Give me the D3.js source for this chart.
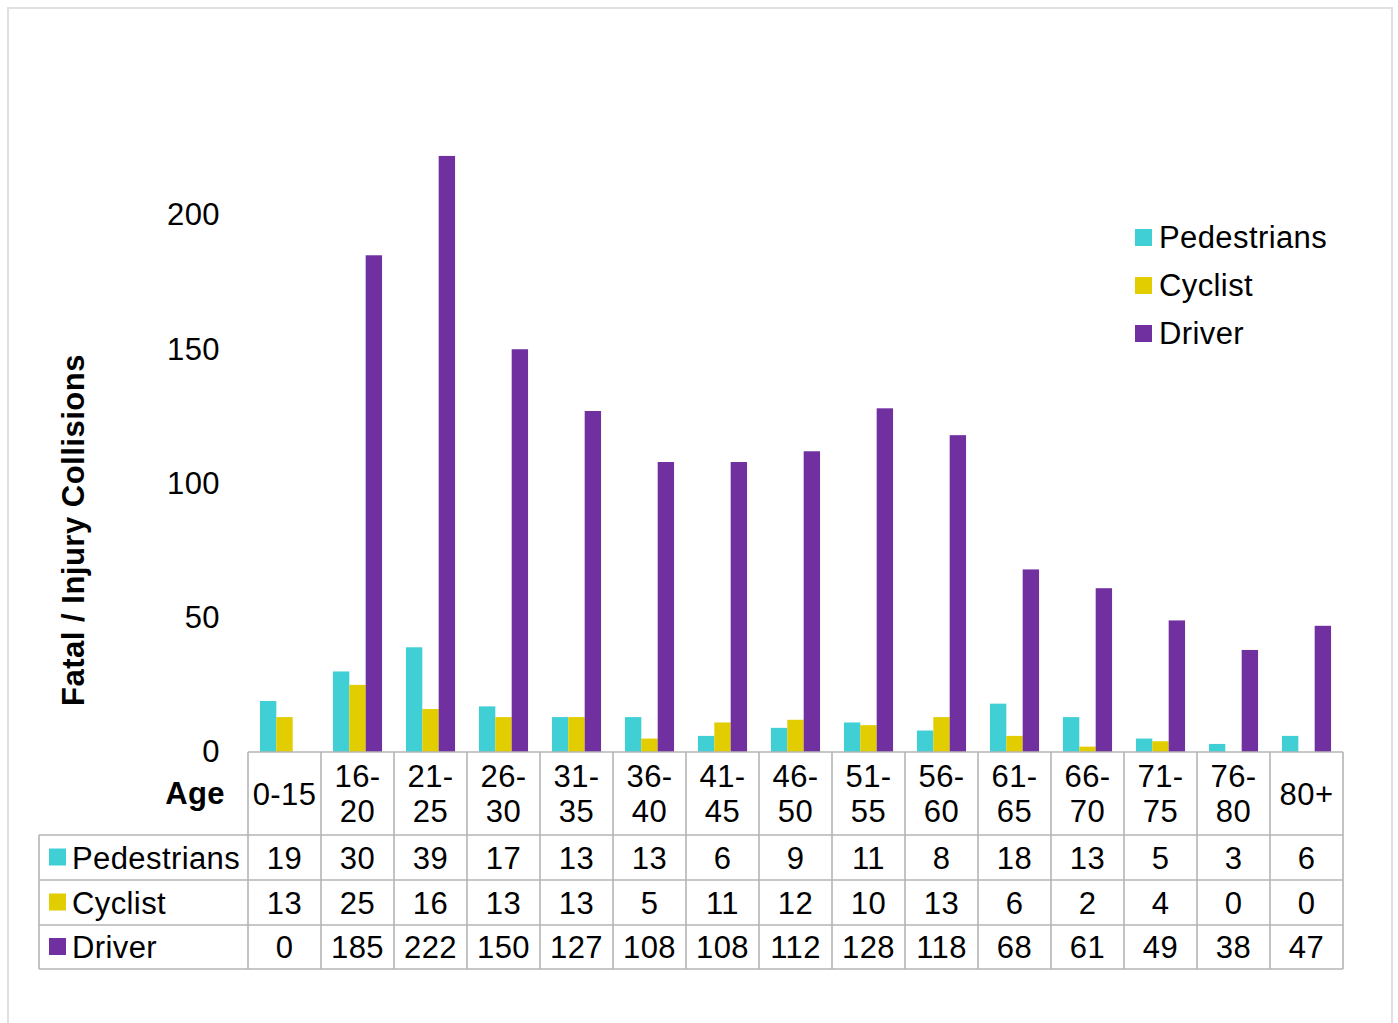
<!DOCTYPE html>
<html lang="en">
<head>
    <meta charset="UTF-8">
    <title>Fatal / Injury Collisions by Age</title>
    <script src="https://d3js.org/d3.v7.min.js"></script>
    <style>
        body { margin: 0; background: #fff; }
        svg text { font-family: "Liberation Sans", Arial, sans-serif; fill: #000; letter-spacing: 0.4px; }
    </style>
</head>
<body>
    <svg id="chart" width="1398" height="1023"></svg>
    <script>
        // Chart data
        const ageGroups = ["0-15", "16-20", "21-25", "26-30", "31-35", "36-40", "41-45", "46-50",
                           "51-55", "56-60", "61-65", "66-70", "71-75", "76-80", "80+"];
        const seriesNames = ["Pedestrians", "Cyclist", "Driver"];
        const pedestrians = [19, 30, 39, 17, 13, 13, 6, 9, 11, 8, 18, 13, 5, 3, 6];
        const cyclist = [13, 25, 16, 13, 13, 5, 11, 12, 10, 13, 6, 2, 4, 0, 0];
        const driver = [0, 185, 222, 150, 127, 108, 108, 112, 128, 118, 68, 61, 49, 38, 47];
        const yTicks = [0, 50, 100, 150, 200];

        const colors = { Pedestrians: "#41cfd6", Cyclist: "#e2cd00", Driver: "#7030a0" };
        const values = { Pedestrians: pedestrians, Cyclist: cyclist, Driver: driver };
        const fs = 31;

        const svg = d3.select("#chart");

        // outer frame
        svg.append("rect")
            .attr("x", 8).attr("y", 8).attr("width", 1384).attr("height", 1030)
            .attr("fill", "none").attr("stroke", "#e0e0e0").attr("stroke-width", 2);

        const plotLeft = 248, plotRight = 1343, baseY = 752;

        const x0 = d3.scaleBand().domain(ageGroups).range([plotLeft, plotRight]).padding(0);
        const x1 = d3.scaleBand().domain(seriesNames).range([0, x0.bandwidth()])
            .paddingInner(0).paddingOuter(0.73);
        const y = d3.scaleLinear().domain([0, 200]).range([baseY, 215]);

        // bars
        const groups = svg.append("g").selectAll("g").data(ageGroups).join("g")
            .attr("transform", d => `translate(${x0(d)},0)`);
        groups.selectAll("rect")
            .data((d, i) => seriesNames.map(s => ({ s, v: values[s][i] })))
            .join("rect")
            .attr("x", d => x1(d.s))
            .attr("width", x1.bandwidth())
            .attr("y", d => y(d.v))
            .attr("height", d => baseY - y(d.v))
            .attr("fill", d => colors[d.s]);

        // y axis (labels only)
        const yAxis = svg.append("g")
            .attr("transform", `translate(230,0)`)
            .call(d3.axisLeft(y).tickValues(yTicks).tickSize(0).tickPadding(10));
        yAxis.select(".domain").remove();
        yAxis.selectAll("text").attr("font-size", fs).attr("font-family", "Liberation Sans, Arial, sans-serif")
            .attr("fill", "#000");

        // y axis title
        svg.append("text")
            .attr("transform", "translate(84,530) rotate(-90)")
            .attr("text-anchor", "middle")
            .attr("font-size", 31).attr("font-weight", "bold")
            .style("letter-spacing", "0.5px")
            .text("Fatal / Injury Collisions");

        // data table
        const rowTops = [835, 880, 925, 969];
        const tableLeft = 39;
        const gridColor = "#b4b4b4";
        const table = svg.append("g");

        // horizontal lines
        table.append("line").attr("x1", plotLeft).attr("x2", plotRight)
            .attr("y1", baseY).attr("y2", baseY);
        rowTops.forEach(ry => table.append("line")
            .attr("x1", tableLeft).attr("x2", plotRight).attr("y1", ry).attr("y2", ry));
        // vertical lines
        table.append("line").attr("x1", tableLeft).attr("x2", tableLeft)
            .attr("y1", rowTops[0]).attr("y2", rowTops[3]);
        ageGroups.forEach(a => table.append("line")
            .attr("x1", x0(a)).attr("x2", x0(a)).attr("y1", baseY).attr("y2", rowTops[3]));
        table.append("line").attr("x1", plotRight).attr("x2", plotRight)
            .attr("y1", baseY).attr("y2", rowTops[3]);
        table.selectAll("line").attr("stroke", gridColor).attr("stroke-width", 1.6);

        // header: Age + category labels
        svg.append("text").attr("x", 225).attr("y", 804).attr("text-anchor", "end")
            .attr("font-size", fs).attr("font-weight", "bold").text("Age");
        ageGroups.forEach(a => {
            const cx = x0(a) + x0.bandwidth() / 2;
            const parts = a.includes("-") && a !== "0-15" ? [a.split("-")[0] + "-", a.split("-")[1]] : [a];
            const t = svg.append("text").attr("text-anchor", "middle").attr("font-size", fs);
            if (parts.length === 1) {
                t.attr("x", cx).attr("y", 805).text(parts[0]);
            } else {
                t.append("tspan").attr("x", cx).attr("y", 787).text(parts[0]);
                t.append("tspan").attr("x", cx).attr("y", 822).text(parts[1]);
            }
        });

        // rows
        seriesNames.forEach((s, r) => {
            const midY = (rowTops[r] + rowTops[r + 1]) / 2;
            svg.append("rect").attr("x", 49).attr("y", midY - 9).attr("width", 17).attr("height", 17)
                .attr("fill", colors[s]);
            svg.append("text").attr("x", 72).attr("y", midY + 11).attr("font-size", fs).text(s);
            values[s].forEach((v, i) => {
                svg.append("text").attr("x", x0(ageGroups[i]) + x0.bandwidth() / 2).attr("y", midY + 11)
                    .attr("text-anchor", "middle").attr("font-size", fs).text(v);
            });
        });

        // legend
        const legend = svg.append("g").selectAll("g").data(seriesNames).join("g")
            .attr("transform", (d, i) => `translate(1135,${237 + i * 48})`);
        legend.append("rect").attr("x", 0).attr("y", -8).attr("width", 17).attr("height", 17)
            .attr("fill", d => colors[d]);
        legend.append("text").attr("x", 24).attr("y", 11).attr("font-size", fs).text(d => d);
    </script>
</body>
</html>
